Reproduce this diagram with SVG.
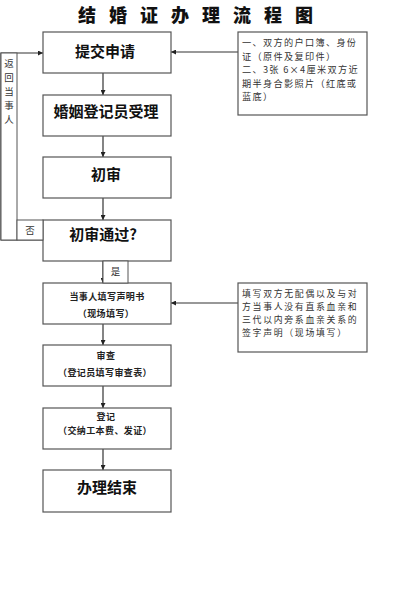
<svg xmlns="http://www.w3.org/2000/svg" width="412" height="600" viewBox="0 0 412 600">
<defs>
<style>
.box{fill:#fff;stroke:#555;stroke-width:1.2}
.lbl{fill:#fff;stroke:#555;stroke-width:1}
.con{fill:none;stroke:#333;stroke-width:1.2}
.big{font-family:"Noto Sans CJK SC","Noto Sans CJK TC",sans-serif;font-weight:bold;font-size:15px;fill:#111;text-anchor:middle}
.sm{font-family:"Noto Sans CJK SC","Noto Sans CJK TC",sans-serif;font-weight:bold;font-size:9px;letter-spacing:0.4px;fill:#222;text-anchor:middle}
.note{font-family:"Noto Sans CJK SC","Noto Sans CJK TC",sans-serif;font-size:9.2px;letter-spacing:1.3px;fill:#333}
.note2{font-family:"Noto Sans CJK SC","Noto Sans CJK TC",sans-serif;font-size:8.9px;letter-spacing:1.7px;fill:#333}
.v{font-family:"Noto Sans CJK SC","Noto Sans CJK TC",sans-serif;font-size:9.5px;fill:#333;text-anchor:middle}
.title{font-family:"Noto Sans CJK SC","Noto Sans CJK TC",sans-serif;font-weight:900;font-size:18px;fill:#111;letter-spacing:13px}
</style>
<marker id="ah" viewBox="0 0 10 10" refX="10" refY="5" markerWidth="5" markerHeight="5" orient="auto" markerUnits="userSpaceOnUse">
<path d="M0,0 L10,5 L0,10 z" fill="#222"/>
</marker>
</defs>
<rect width="412" height="600" fill="#fff"/>
<text class="title" x="78" y="22">结婚证办理流程图</text>

<g id="connectors">
<path class="con" d="M103,73 V95" marker-end="url(#ah)"/>
<path class="con" d="M103,136 V157" marker-end="url(#ah)"/>
<path class="con" d="M103,198 V220" marker-end="url(#ah)"/>
<path class="con" d="M103,261 V283" marker-end="url(#ah)"/>
<path class="con" d="M103,324 V345" marker-end="url(#ah)"/>
<path class="con" d="M103,386 V408" marker-end="url(#ah)"/>
<path class="con" d="M103,449 V470" marker-end="url(#ah)"/>
<path class="con" d="M238,52 H171" marker-end="url(#ah)"/>
<path class="con" d="M238,303 H171" marker-end="url(#ah)"/>
<path class="con" d="M43,240 H1 V53 H43" marker-end="url(#ah)"/>
</g>

<g id="n1"><rect class="box" x="43" y="32" width="128" height="41"/><text class="big" x="105" y="57">提交申请</text></g>
<g id="n2"><rect class="box" x="43" y="95" width="128" height="41"/><text class="big" x="106" y="117">婚姻登记员受理</text></g>
<g id="n3"><rect class="box" x="43" y="157" width="128" height="41"/><text class="big" x="106" y="180">初审</text></g>
<g id="n4"><rect class="box" x="43" y="220" width="128" height="41"/><text class="big" x="103" y="240">初审通过?</text></g>
<g id="n5"><rect class="box" x="43" y="283" width="128" height="41"/><text class="sm" x="107" y="300">当事人填写声明书</text><text class="sm" x="106" y="317">（现场填写）</text></g>
<g id="n6"><rect class="box" x="43" y="345" width="128" height="41"/><text class="sm" x="106" y="359">审查</text><text class="sm" x="105" y="376">（登记员填写审查表）</text></g>
<g id="n7"><rect class="box" x="43" y="408" width="128" height="41"/><text class="sm" x="106" y="420">登记</text><text class="sm" x="105" y="433.5">（交纳工本费、发证）</text></g>
<g id="n8"><rect class="box" x="43" y="470" width="128" height="42"/><text class="big" x="107" y="493">办理结束</text></g>

<g id="note1"><rect class="box" x="238" y="32" width="129" height="83"/>
<text class="note" x="242" y="46">一、双方的户口簿、身份</text>
<text class="note" x="242" y="59.5">证（原件及复印件）</text>
<text class="note" x="242" y="73">二、3张 6×4厘米双方近</text>
<text class="note" x="242" y="86.5">期半身合影照片（红底或</text>
<text class="note" x="242" y="100">蓝底）</text>
</g>
<g id="note2"><rect class="box" x="238" y="283" width="129" height="69"/>
<text class="note2" x="242" y="297">填写双方无配偶以及与对</text>
<text class="note2" x="242" y="310">方当事人没有直系血亲和</text>
<text class="note2" x="242" y="323">三代以内旁系血亲关系的</text>
<text class="note2" x="242" y="336">签字声明（现场填写）</text>
</g>

<g id="return"><rect class="lbl" x="1" y="53" width="16" height="187"/>
<text class="v" x="9" y="67">返</text>
<text class="v" x="9" y="81">回</text>
<text class="v" x="9" y="95">当</text>
<text class="v" x="9" y="109">事</text>
<text class="v" x="9" y="123">人</text>
</g>
<g id="no"><rect class="lbl" x="17" y="220" width="26" height="20"/><text class="v" x="30" y="233.5">否</text></g>
<g id="yes"><rect class="lbl" x="103" y="261" width="25" height="22"/><text class="v" x="115.5" y="275">是</text></g>
</svg>
